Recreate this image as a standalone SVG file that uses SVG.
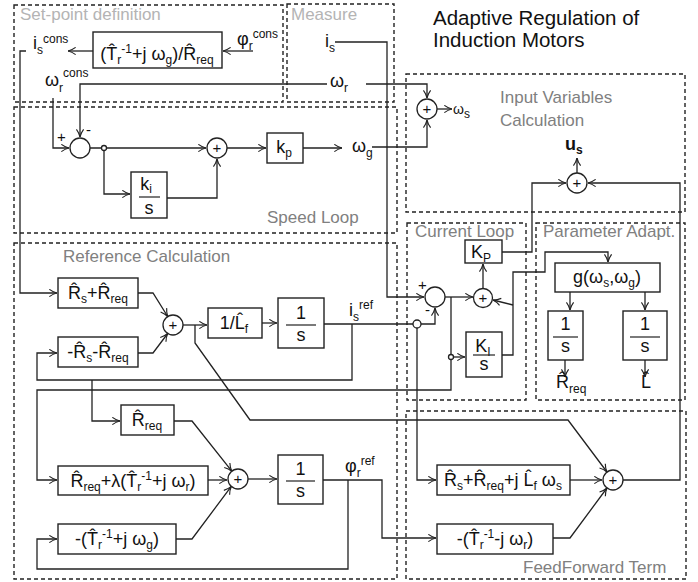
<svg xmlns="http://www.w3.org/2000/svg" width="698" height="582" viewBox="0 0 698 582">
<style>
text{font-family:"Liberation Sans",Arial,sans-serif;fill:#111}
.m{font-size:18px}
.b{font-size:12px}
.g{font-size:17px;fill:#808080}
.lg{font-size:17px;fill:#b4b4b4}
.ttl{font-size:20.5px}
.pl{font-size:15px}
.d{fill:none;stroke:#222;stroke-width:1.4;stroke-dasharray:4 3}
.bx{fill:#fff;stroke:#222;stroke-width:1.4}
.c{fill:#fff;stroke:#222;stroke-width:1.3}
.fl{stroke:#222;stroke-width:1.2}
</style>
<defs>
<marker id="a" viewBox="0 0 10 10" refX="9.5" refY="5" markerWidth="9" markerHeight="9" markerUnits="userSpaceOnUse" orient="auto">
<path d="M1,1 Q5,4 9.5,5 Q5,6 1,9" fill="none" stroke="#222" stroke-width="1.3"/>
</marker>
</defs>
<rect width="698" height="582" fill="#fff"/>

<g id="regions">
<rect class="d" x="14" y="5" width="269" height="97"/>
<rect class="d" x="287" y="4" width="107" height="98"/>
<rect class="d" x="14" y="107" width="383" height="126"/>
<rect class="d" x="406" y="74" width="279" height="138"/>
<rect class="d" x="14" y="243" width="383" height="336"/>
<rect class="d" x="407" y="223" width="119" height="177"/>
<rect class="d" x="536" y="223" width="149" height="177"/>
<rect class="d" x="406" y="411" width="280" height="168"/>
<text class="lg" x="20" y="20">Set-point definition</text>
<text class="lg" x="291" y="20">Measure</text>
<text class="g" x="267" y="223">Speed Loop</text>
<text class="g" x="500" y="103">Input Variables</text>
<text class="g" x="500" y="126">Calculation</text>
<text class="g" x="63" y="262">Reference Calculation</text>
<text class="g" x="415" y="237">Current Loop</text>
<text class="g" x="543" y="237">Parameter Adapt.</text>
<text class="g" x="523" y="573">FeedForward Term</text>
</g>

<g id="title">
<text class="ttl" x="433" y="25">Adaptive Regulation of</text>
<text class="ttl" x="433" y="47">Induction Motors</text>
</g>

<g id="connectors" fill="none" stroke="#222" stroke-width="1.3">
<path d="M253,51 H223" marker-end="url(#a)"/>
<path d="M93,51 H68" marker-end="url(#a)"/>
<path d="M26,51 H20 V293 H57" marker-end="url(#a)"/>
<path d="M53,98 V148 H69" marker-end="url(#a)"/>
<path d="M327,84 H80 V137" marker-end="url(#a)"/>
<path d="M366,84 H427 V98" marker-end="url(#a)"/>
<path d="M90,148 H206" marker-end="url(#a)"/>
<path d="M104,148 V194 H130" marker-end="url(#a)"/>
<path d="M167,198 H217 V159" marker-end="url(#a)"/>
<path d="M227,148 H266" marker-end="url(#a)"/>
<path d="M303,148 H342" marker-end="url(#a)"/>
<path d="M372,147 H427 V120" marker-end="url(#a)"/>
<path d="M437,109 H452" marker-end="url(#a)"/>
<path d="M335,42 H387 V297 H424" marker-end="url(#a)"/>
<path d="M324,324 H435 V308" marker-end="url(#a)"/>
<path d="M417,328 V480 H436" marker-end="url(#a)"/>
<path d="M352,324 V380 H37 V353 H57" marker-end="url(#a)"/>
<path d="M92,380 V421 H120" marker-end="url(#a)"/>
<path d="M445,297 H473" marker-end="url(#a)"/>
<path d="M451,297 V390 H37 V480 H57" marker-end="url(#a)"/>
<path d="M453,357 H465" marker-end="url(#a)"/>
<path d="M483,288 V264" marker-end="url(#a)"/>
<path d="M502,252 H532 V183 H566" marker-end="url(#a)"/>
<path d="M502,355 H513 V272 H545 V252 H608 V262" marker-end="url(#a)"/>
<path d="M513,305 L493,300" marker-end="url(#a)"/>
<path d="M570,292 V310" marker-end="url(#a)"/>
<path d="M645,292 V310" marker-end="url(#a)"/>
<path d="M565,360 V377" marker-end="url(#a)"/>
<path d="M645,360 V377" marker-end="url(#a)"/>
<path d="M577,173 V158" marker-end="url(#a)"/>
<path d="M623,480 H680 V183 H588" marker-end="url(#a)"/>
<path d="M138,293 H153 L167.7,316.5" marker-end="url(#a)"/>
<path d="M138,353 H153 L167.7,333.5" marker-end="url(#a)"/>
<path d="M183,325 H207" marker-end="url(#a)"/>
<path d="M195,325 V343 L250,420 H568 L607,472" marker-end="url(#a)"/>
<path d="M262,323 H277" marker-end="url(#a)"/>
<path d="M174,421 H192 L231.8,471.2" marker-end="url(#a)"/>
<path d="M208,480 H227" marker-end="url(#a)"/>
<path d="M176,539 H192 L231.3,486.4" marker-end="url(#a)"/>
<path d="M248,479 H277" marker-end="url(#a)"/>
<path d="M323,480 H382 V538 H436" marker-end="url(#a)"/>
<path d="M348,480 V569 H37 V539 H57" marker-end="url(#a)"/>
<path d="M570,480 H602" marker-end="url(#a)"/>
<path d="M553,538 H570 L607,488" marker-end="url(#a)"/>
</g>

<g id="signals">
<text class="m" x="33" y="49">i<tspan class="b" dy="5">s</tspan><tspan class="b" dy="-11">cons</tspan></text>
<text class="m" x="237" y="45">φ<tspan class="b" dy="5">r</tspan><tspan class="b" dy="-12">cons</tspan></text>
<text class="m" x="45" y="86">ω<tspan class="b" dy="6">r</tspan><tspan class="b" dy="-15">cons</tspan></text>
<text class="m" x="325" y="47">i<tspan class="b" dy="5">s</tspan></text>
<text class="m" x="330" y="87">ω<tspan class="b" dy="5">r</tspan></text>
<text class="m" x="352" y="152">ω<tspan class="b" dy="5">g</tspan></text>
<text x="453" y="114" style="font-size:14px">ω<tspan class="b" dy="4">s</tspan></text>
<text class="m" x="565" y="150" style="font-weight:bold">u<tspan class="b" dy="4">s</tspan></text>
<text class="m" x="349" y="316">i<tspan class="b" dy="5">s</tspan><tspan class="b" dy="-12">ref</tspan></text>
<text class="m" x="345" y="472">φ<tspan class="b" dy="5">r</tspan><tspan class="b" dy="-12">ref</tspan></text>
<text class="m" x="556" y="388">R̂<tspan class="b" dy="5">req</tspan></text>
<text class="m" x="641" y="388">L̂</text>
<text class="pl" x="57" y="142">+</text>
<text class="pl" x="86" y="135">-</text>
<text class="pl" x="418" y="290">+</text>
<text class="pl" x="425" y="315">-</text>
</g>

<g id="setpoint-gain"><rect class="bx" x="93" y="32" width="129" height="36"/>
<text class="m" x="157" y="60" text-anchor="middle">(T̂<tspan class="b" dy="4">r</tspan><tspan class="b" dy="-11">-1</tspan><tspan dy="7">+j ω</tspan><tspan class="b" dy="4">g</tspan><tspan dy="-4">)/R̂</tspan><tspan class="b" dy="4">req</tspan></text></g>

<g id="speed-err"><circle class="c" cx="80" cy="148" r="10"/></g>
<g id="speed-branch"><circle class="c" cx="104" cy="148" r="2.5"/></g>
<g id="speed-sum"><circle class="c" cx="217" cy="148" r="10"/><text class="pl" x="217" y="153" text-anchor="middle">+</text></g>
<g id="ki"><rect class="bx" x="131" y="172" width="36" height="46"/>
<text class="m" x="146" y="190" text-anchor="middle">k<tspan class="b" dy="3">i</tspan></text>
<line class="fl" x1="139" y1="197" x2="160" y2="197"/>
<text class="m" x="149" y="214" text-anchor="middle">s</text></g>
<g id="kp"><rect class="bx" x="267" y="133" width="36" height="30"/>
<text class="m" x="284" y="153" text-anchor="middle">k<tspan class="b" dy="4">p</tspan></text></g>
<g id="ws-sum"><circle class="c" cx="427" cy="109" r="10"/><text class="pl" x="427" y="114" text-anchor="middle">+</text></g>
<g id="us-sum"><circle class="c" cx="577" cy="183" r="10"/><text class="pl" x="577" y="188" text-anchor="middle">+</text></g>

<g id="cur-err"><circle class="c" cx="435" cy="297" r="10"/></g>
<g id="cur-branch1"><circle class="c" cx="417" cy="324" r="4"/></g>
<g id="cur-branch2"><circle class="c" cx="451" cy="357" r="2.5"/></g>
<g id="cur-sum"><circle class="c" cx="483" cy="298" r="9.5"/><text class="pl" x="483" y="303" text-anchor="middle">+</text></g>
<g id="KP"><rect class="bx" x="465" y="240" width="37" height="23"/>
<text class="m" x="481" y="258" text-anchor="middle">K<tspan class="b" dy="4">P</tspan></text></g>
<g id="KI"><rect class="bx" x="466" y="332" width="36" height="45"/>
<text class="m" x="483" y="352" text-anchor="middle">K<tspan class="b" dy="4">I</tspan></text>
<line class="fl" x1="473" y1="355" x2="495" y2="355"/>
<text class="m" x="484" y="370" text-anchor="middle">s</text></g>

<g id="g-func"><rect class="bx" x="555" y="263" width="105" height="29"/>
<text class="m" x="607" y="283" text-anchor="middle">g(ω<tspan class="b" dy="4">s</tspan><tspan dy="-4">,ω</tspan><tspan class="b" dy="4">g</tspan><tspan dy="-4">)</tspan></text></g>
<g id="int-R"><rect class="bx" x="548" y="311" width="35" height="49"/>
<text class="m" x="565.5" y="330" text-anchor="middle">1</text><line class="fl" x1="553" y1="337" x2="578" y2="337"/><text class="m" x="565.5" y="352" text-anchor="middle">s</text></g>
<g id="int-L"><rect class="bx" x="623" y="311" width="44" height="49"/>
<text class="m" x="645" y="330" text-anchor="middle">1</text><line class="fl" x1="630" y1="337" x2="660" y2="337"/><text class="m" x="645" y="352" text-anchor="middle">s</text></g>

<g id="ref-RsRreq"><rect class="bx" x="58" y="278" width="80" height="30"/>
<text class="m" x="98" y="299" text-anchor="middle">R̂<tspan class="b" dy="4">s</tspan><tspan dy="-4">+R̂</tspan><tspan class="b" dy="4">req</tspan></text></g>
<g id="ref-mRsRreq"><rect class="bx" x="58" y="337" width="80" height="30"/>
<text class="m" x="98" y="358" text-anchor="middle">-R̂<tspan class="b" dy="4">s</tspan><tspan dy="-4">-R̂</tspan><tspan class="b" dy="4">req</tspan></text></g>
<g id="ref-sum1"><circle class="c" cx="173" cy="325" r="10"/><text class="pl" x="173" y="330" text-anchor="middle">+</text></g>
<g id="ref-invL"><rect class="bx" x="208" y="308" width="54" height="30"/>
<text class="m" x="234" y="329" text-anchor="middle">1/L̂<tspan class="b" dy="4">f</tspan></text></g>
<g id="ref-int1"><rect class="bx" x="278" y="298" width="46" height="50"/>
<text class="m" x="301" y="319" text-anchor="middle">1</text><line class="fl" x1="286" y1="325" x2="316" y2="325"/><text class="m" x="301" y="341" text-anchor="middle">s</text></g>
<g id="ref-Rreq"><rect class="bx" x="121" y="405" width="53" height="30"/>
<text class="m" x="147" y="426" text-anchor="middle">R̂<tspan class="b" dy="4">req</tspan></text></g>
<g id="ref-lambda"><rect class="bx" x="58" y="466" width="150" height="29"/>
<text class="m" x="133" y="487" text-anchor="middle">R̂<tspan class="b" dy="4">req</tspan><tspan dy="-4">+λ(T̂</tspan><tspan class="b" dy="4">r</tspan><tspan class="b" dy="-11">-1</tspan><tspan dy="7">+j ω</tspan><tspan class="b" dy="4">r</tspan><tspan dy="-4">)</tspan></text></g>
<g id="ref-Twg"><rect class="bx" x="58" y="524" width="118" height="30"/>
<text class="m" x="117" y="545" text-anchor="middle">-(T̂<tspan class="b" dy="4">r</tspan><tspan class="b" dy="-11">-1</tspan><tspan dy="7">+j ω</tspan><tspan class="b" dy="4">g</tspan><tspan dy="-4">)</tspan></text></g>
<g id="ref-sum2"><circle class="c" cx="238" cy="479" r="10"/><text class="pl" x="238" y="484" text-anchor="middle">+</text></g>
<g id="ref-int2"><rect class="bx" x="278" y="455" width="45" height="49"/>
<text class="m" x="300.5" y="475" text-anchor="middle">1</text><line class="fl" x1="286" y1="481" x2="315" y2="481"/><text class="m" x="300.5" y="497" text-anchor="middle">s</text></g>

<g id="ff-gain1"><rect class="bx" x="437" y="465" width="133" height="30"/>
<text class="m" x="503" y="486" text-anchor="middle">R̂<tspan class="b" dy="4">s</tspan><tspan dy="-4">+R̂</tspan><tspan class="b" dy="4">req</tspan><tspan dy="-4">+j L̂</tspan><tspan class="b" dy="4">f</tspan><tspan dy="-4"> ω</tspan><tspan class="b" dy="4">s</tspan></text></g>
<g id="ff-gain2"><rect class="bx" x="437" y="524" width="116" height="30"/>
<text class="m" x="495" y="545" text-anchor="middle">-(T̂<tspan class="b" dy="4">r</tspan><tspan class="b" dy="-11">-1</tspan><tspan dy="7">-j ω</tspan><tspan class="b" dy="4">r</tspan><tspan dy="-4">)</tspan></text></g>
<g id="ff-sum"><circle class="c" cx="613" cy="480" r="10"/><text class="pl" x="613" y="485" text-anchor="middle">+</text></g>
</svg>
